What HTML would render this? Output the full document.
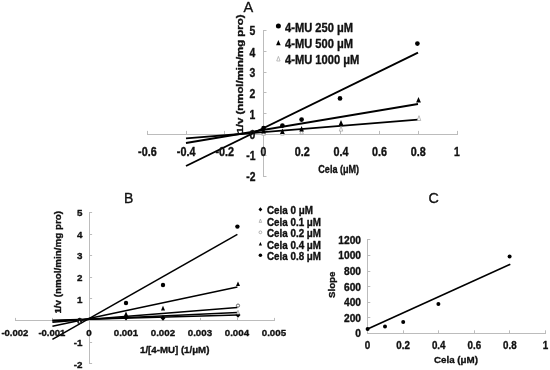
<!DOCTYPE html>
<html lang="en"><head><meta charset="utf-8"><title>Figure</title>
<style>
html,body{margin:0;padding:0;background:#fff;}
body{width:550px;height:370px;overflow:hidden;}
svg{display:block;font-family:"Liberation Sans",sans-serif;fill:#111;}
text{stroke:#111;stroke-width:0.35px;stroke-linejoin:round;}
text.lt{stroke-width:0.25px;}
</style></head><body>
<svg width="550" height="370" viewBox="0 0 550 370">
<rect x="0" y="0" width="550" height="370" fill="#fff"/>
<g id="chartA">
<line x1="147" y1="134.5" x2="458" y2="134.5" stroke="#bcbcbc" stroke-width="1"/>
<line x1="263.5" y1="30" x2="263.5" y2="177" stroke="#bcbcbc" stroke-width="1"/>
<line x1="147.5" y1="130.9" x2="147.5" y2="134.5" stroke="#bcbcbc" stroke-width="1"/>
<line x1="186.5" y1="130.9" x2="186.5" y2="134.5" stroke="#bcbcbc" stroke-width="1"/>
<line x1="224.5" y1="130.9" x2="224.5" y2="134.5" stroke="#bcbcbc" stroke-width="1"/>
<line x1="263.5" y1="130.9" x2="263.5" y2="134.5" stroke="#bcbcbc" stroke-width="1"/>
<line x1="302.5" y1="130.9" x2="302.5" y2="134.5" stroke="#bcbcbc" stroke-width="1"/>
<line x1="340.5" y1="130.9" x2="340.5" y2="134.5" stroke="#bcbcbc" stroke-width="1"/>
<line x1="379.5" y1="130.9" x2="379.5" y2="134.5" stroke="#bcbcbc" stroke-width="1"/>
<line x1="418.5" y1="130.9" x2="418.5" y2="134.5" stroke="#bcbcbc" stroke-width="1"/>
<line x1="457.5" y1="130.9" x2="457.5" y2="134.5" stroke="#bcbcbc" stroke-width="1"/>
<line x1="263.5" y1="176.5" x2="266.5" y2="176.5" stroke="#bcbcbc" stroke-width="1"/>
<line x1="263.5" y1="155.5" x2="266.5" y2="155.5" stroke="#bcbcbc" stroke-width="1"/>
<line x1="263.5" y1="134.5" x2="266.5" y2="134.5" stroke="#bcbcbc" stroke-width="1"/>
<line x1="263.5" y1="113.5" x2="266.5" y2="113.5" stroke="#bcbcbc" stroke-width="1"/>
<line x1="263.5" y1="92.5" x2="266.5" y2="92.5" stroke="#bcbcbc" stroke-width="1"/>
<line x1="263.5" y1="72.5" x2="266.5" y2="72.5" stroke="#bcbcbc" stroke-width="1"/>
<line x1="263.5" y1="51.5" x2="266.5" y2="51.5" stroke="#bcbcbc" stroke-width="1"/>
<line x1="263.5" y1="30.5" x2="266.5" y2="30.5" stroke="#bcbcbc" stroke-width="1"/>
<line x1="186" y1="166" x2="418" y2="52.6" stroke="#000" stroke-width="1.9"/>
<line x1="186" y1="143" x2="418" y2="104" stroke="#000" stroke-width="1.9"/>
<line x1="186" y1="138.4" x2="418" y2="119.6" stroke="#000" stroke-width="1.9"/>
<circle cx="263.6" cy="128" r="2.35" fill="#000"/>
<circle cx="282.4" cy="125.6" r="2.35" fill="#000"/>
<circle cx="301.6" cy="119.6" r="2.35" fill="#000"/>
<circle cx="340" cy="98.4" r="2.35" fill="#000"/>
<circle cx="417.4" cy="43.6" r="2.35" fill="#000"/>
<polygon points="263.6,130.5 261.85,135.3 265.35,135.3" fill="#fff" stroke="#a0a0a0" stroke-width="0.7"/>
<polygon points="282.4,130.3 280.65,135.1 284.15,135.1" fill="#fff" stroke="#a0a0a0" stroke-width="0.7"/>
<polygon points="301.6,129.3 299.85,134.1 303.35,134.1" fill="#fff" stroke="#a0a0a0" stroke-width="0.7"/>
<polygon points="341,126.3 339.25,131.1 342.75,131.1" fill="#fff" stroke="#a0a0a0" stroke-width="0.7"/>
<polygon points="419,115.7 417.25,120.5 420.75,120.5" fill="#fff" stroke="#a0a0a0" stroke-width="0.7"/>
<polygon points="263.6,127.99999999999999 261.22,133.4 265.98,133.4" fill="#000" stroke="none" stroke-width="0"/>
<polygon points="282.4,128.6 280.02,134.0 284.78,134.0" fill="#000" stroke="none" stroke-width="0"/>
<polygon points="301.6,126.0 299.22,131.4 303.98,131.4" fill="#000" stroke="none" stroke-width="0"/>
<polygon points="341,120.0 338.62,125.4 343.38,125.4" fill="#000" stroke="none" stroke-width="0"/>
<polygon points="418.5,97.0 416.12,102.4 420.88,102.4" fill="#000" stroke="none" stroke-width="0"/>
<text x="147.4" y="155.7" font-size="12" font-weight="bold" text-anchor="middle" textLength="18.6" lengthAdjust="spacingAndGlyphs">-0.6</text>
<text x="186.1" y="155.7" font-size="12" font-weight="bold" text-anchor="middle" textLength="18.6" lengthAdjust="spacingAndGlyphs">-0.4</text>
<text x="224.8" y="155.7" font-size="12" font-weight="bold" text-anchor="middle" textLength="18.6" lengthAdjust="spacingAndGlyphs">-0.2</text>
<text x="263.5" y="155.7" font-size="12" font-weight="bold" text-anchor="middle" textLength="5.8" lengthAdjust="spacingAndGlyphs">0</text>
<text x="302.2" y="155.7" font-size="12" font-weight="bold" text-anchor="middle" textLength="15" lengthAdjust="spacingAndGlyphs">0.2</text>
<text x="340.9" y="155.7" font-size="12" font-weight="bold" text-anchor="middle" textLength="15" lengthAdjust="spacingAndGlyphs">0.4</text>
<text x="379.6" y="155.7" font-size="12" font-weight="bold" text-anchor="middle" textLength="15" lengthAdjust="spacingAndGlyphs">0.6</text>
<text x="418.3" y="155.7" font-size="12" font-weight="bold" text-anchor="middle" textLength="15" lengthAdjust="spacingAndGlyphs">0.8</text>
<text x="457.0" y="155.7" font-size="12" font-weight="bold" text-anchor="middle" textLength="5.8" lengthAdjust="spacingAndGlyphs">1</text>
<text x="255.4" y="180.79999999999998" font-size="12" font-weight="bold" text-anchor="end" textLength="9.2" lengthAdjust="spacingAndGlyphs">-2</text>
<text x="255.4" y="160.0" font-size="12" font-weight="bold" text-anchor="end" textLength="9.2" lengthAdjust="spacingAndGlyphs">-1</text>
<text x="255.4" y="139.2" font-size="12" font-weight="bold" text-anchor="end" textLength="5.8" lengthAdjust="spacingAndGlyphs">0</text>
<text x="255.4" y="118.9" font-size="12" font-weight="bold" text-anchor="end" textLength="5.8" lengthAdjust="spacingAndGlyphs">1</text>
<text x="255.4" y="98.10000000000001" font-size="12" font-weight="bold" text-anchor="end" textLength="5.8" lengthAdjust="spacingAndGlyphs">2</text>
<text x="255.4" y="77.3" font-size="12" font-weight="bold" text-anchor="end" textLength="5.8" lengthAdjust="spacingAndGlyphs">3</text>
<text x="255.4" y="56.5" font-size="12" font-weight="bold" text-anchor="end" textLength="5.8" lengthAdjust="spacingAndGlyphs">4</text>
<text x="255.4" y="35.2" font-size="12" font-weight="bold" text-anchor="end" textLength="5.8" lengthAdjust="spacingAndGlyphs">5</text>
<text x="338.7" y="173.1" font-size="10.8" font-weight="bold" text-anchor="middle" textLength="40.8" lengthAdjust="spacingAndGlyphs">Cela (μM)</text>
<text transform="translate(242.6,133.5) rotate(-90)" font-size="9.2" font-weight="bold" textLength="119" lengthAdjust="spacingAndGlyphs">1/v (nmol/min/mg pro)</text>
<circle cx="278.4" cy="26" r="2.5" fill="#000"/>
<polygon points="278.4,40.099999999999994 276.1,45.3 280.69,45.3" fill="#000" stroke="none" stroke-width="0"/>
<polygon points="278.4,56.4 276.72,61.0 280.08,61.0" fill="#fff" stroke="#a0a0a0" stroke-width="0.7"/>
<text x="285" y="32.3" font-size="11.9" font-weight="bold" text-anchor="start" textLength="68" lengthAdjust="spacingAndGlyphs">4-MU 250 μM</text>
<text x="285" y="48.2" font-size="11.9" font-weight="bold" text-anchor="start" textLength="68" lengthAdjust="spacingAndGlyphs">4-MU 500 μM</text>
<text x="285" y="63.8" font-size="11.9" font-weight="bold" text-anchor="start" textLength="74.4" lengthAdjust="spacingAndGlyphs">4-MU 1000 μM</text>
<text x="248.3" y="11.7" font-size="14.5" font-weight="normal" text-anchor="middle">A</text>
</g>
<g id="chartB">
<line x1="15" y1="320.5" x2="275" y2="320.5" stroke="#bcbcbc" stroke-width="1"/>
<line x1="89.5" y1="212" x2="89.5" y2="364" stroke="#bcbcbc" stroke-width="1"/>
<line x1="15.5" y1="317.9" x2="15.5" y2="320.5" stroke="#bcbcbc" stroke-width="1"/>
<line x1="52.5" y1="317.9" x2="52.5" y2="320.5" stroke="#bcbcbc" stroke-width="1"/>
<line x1="89.5" y1="317.9" x2="89.5" y2="320.5" stroke="#bcbcbc" stroke-width="1"/>
<line x1="126.5" y1="317.9" x2="126.5" y2="320.5" stroke="#bcbcbc" stroke-width="1"/>
<line x1="163.5" y1="317.9" x2="163.5" y2="320.5" stroke="#bcbcbc" stroke-width="1"/>
<line x1="200.5" y1="317.9" x2="200.5" y2="320.5" stroke="#bcbcbc" stroke-width="1"/>
<line x1="237.5" y1="317.9" x2="237.5" y2="320.5" stroke="#bcbcbc" stroke-width="1"/>
<line x1="274.5" y1="317.9" x2="274.5" y2="320.5" stroke="#bcbcbc" stroke-width="1"/>
<line x1="89.5" y1="363.5" x2="92.1" y2="363.5" stroke="#bcbcbc" stroke-width="1"/>
<line x1="89.5" y1="342.5" x2="92.1" y2="342.5" stroke="#bcbcbc" stroke-width="1"/>
<line x1="89.5" y1="320.5" x2="92.1" y2="320.5" stroke="#bcbcbc" stroke-width="1"/>
<line x1="89.5" y1="298.5" x2="92.1" y2="298.5" stroke="#bcbcbc" stroke-width="1"/>
<line x1="89.5" y1="277.5" x2="92.1" y2="277.5" stroke="#bcbcbc" stroke-width="1"/>
<line x1="89.5" y1="255.5" x2="92.1" y2="255.5" stroke="#bcbcbc" stroke-width="1"/>
<line x1="89.5" y1="234.5" x2="92.1" y2="234.5" stroke="#bcbcbc" stroke-width="1"/>
<line x1="89.5" y1="212.5" x2="92.1" y2="212.5" stroke="#bcbcbc" stroke-width="1"/>
<line x1="52.4" y1="339.4" x2="237.4" y2="234.4" stroke="#000" stroke-width="1.5"/>
<line x1="52.4" y1="326.3" x2="237.4" y2="287" stroke="#000" stroke-width="1.5"/>
<line x1="52.4" y1="322.2" x2="237.4" y2="307.6" stroke="#000" stroke-width="1.5"/>
<line x1="52.4" y1="321.0" x2="237.4" y2="312.6" stroke="#000" stroke-width="1.5"/>
<line x1="52.4" y1="320.2" x2="237.4" y2="315" stroke="#000" stroke-width="1.5"/>
<polygon points="126,315.0 128.52,317.8 126,320.6 123.48,317.8" fill="#000"/>
<polygon points="163,315.2 165.52,318 163,320.8 160.48,318" fill="#000"/>
<polygon points="238,312.2 240.52,315 238,317.8 235.48,315" fill="#000"/>
<polygon points="79.5,317.7 82.02,320.5 79.5,323.3 76.98,320.5" fill="#000"/>
<circle cx="79.3" cy="322.2" r="0.9" fill="#fff" stroke="#fff" stroke-width="0.8"/>
<polygon points="238,310.3 236.6,314.1 239.4,314.1" fill="#fff" stroke="#a0a0a0" stroke-width="0.7"/>
<circle cx="238" cy="305.6" r="1.6" fill="#fff" stroke="#444" stroke-width="0.8"/>
<polygon points="126,311.40000000000003 123.96,316.0 128.04,316.0" fill="#000" stroke="none" stroke-width="0"/>
<polygon points="163,305.8 160.96,310.4 165.04,310.4" fill="#000" stroke="none" stroke-width="0"/>
<polygon points="238,281.40000000000003 235.96,286.0 240.04,286.0" fill="#000" stroke="none" stroke-width="0"/>
<circle cx="126" cy="303" r="2.2" fill="#000"/>
<circle cx="163" cy="285" r="2.2" fill="#000"/>
<circle cx="237.4" cy="226.6" r="2.2" fill="#000"/>
<text x="14.9" y="336.4" font-size="9.9" font-weight="bold" text-anchor="middle" textLength="27" lengthAdjust="spacingAndGlyphs">-0.002</text>
<text x="51.9" y="336.4" font-size="9.9" font-weight="bold" text-anchor="middle" textLength="27" lengthAdjust="spacingAndGlyphs">-0.001</text>
<text x="88.9" y="336.4" font-size="9.9" font-weight="bold" text-anchor="middle">0</text>
<text x="125.9" y="336.4" font-size="9.9" font-weight="bold" text-anchor="middle" textLength="24.3" lengthAdjust="spacingAndGlyphs">0.001</text>
<text x="162.9" y="336.4" font-size="9.9" font-weight="bold" text-anchor="middle" textLength="24.3" lengthAdjust="spacingAndGlyphs">0.002</text>
<text x="199.9" y="336.4" font-size="9.9" font-weight="bold" text-anchor="middle" textLength="24.3" lengthAdjust="spacingAndGlyphs">0.003</text>
<text x="236.9" y="336.4" font-size="9.9" font-weight="bold" text-anchor="middle" textLength="24.3" lengthAdjust="spacingAndGlyphs">0.004</text>
<text x="273.9" y="336.4" font-size="9.9" font-weight="bold" text-anchor="middle" textLength="24.3" lengthAdjust="spacingAndGlyphs">0.005</text>
<text x="82.4" y="367.7" font-size="9.8" font-weight="bold" text-anchor="end">-2</text>
<text x="82.4" y="346.1" font-size="9.8" font-weight="bold" text-anchor="end">-1</text>
<text x="82.4" y="324.3" font-size="9.8" font-weight="bold" text-anchor="end">0</text>
<text x="82.4" y="302.7" font-size="9.8" font-weight="bold" text-anchor="end">1</text>
<text x="82.4" y="281.1" font-size="9.8" font-weight="bold" text-anchor="end">2</text>
<text x="82.4" y="259.2" font-size="9.8" font-weight="bold" text-anchor="end">3</text>
<text x="82.4" y="237.6" font-size="9.8" font-weight="bold" text-anchor="end">4</text>
<text x="82.4" y="216.1" font-size="9.8" font-weight="bold" text-anchor="end">5</text>
<text x="174.7" y="353.4" font-size="9.7" font-weight="bold" text-anchor="middle" textLength="69.4" lengthAdjust="spacingAndGlyphs">1/[4-MU] (1/μM)</text>
<text transform="translate(61.4,313.6) rotate(-90)" font-size="9.8" font-weight="bold" textLength="102.6" lengthAdjust="spacingAndGlyphs">1/v (nmol/min/mg pro)</text>
<polygon points="260.4,207.3 262.28999999999996,209.4 260.4,211.5 258.51,209.4" fill="#000"/>
<polygon points="260.4,219.0 259.14,222.4 261.66,222.4" fill="#fff" stroke="#a0a0a0" stroke-width="0.7"/>
<circle cx="260.4" cy="232.3" r="1.4" fill="#fff" stroke="#a0a0a0" stroke-width="0.8"/>
<polygon points="260.4,241.9 258.78,245.5 262.01,245.5" fill="#000" stroke="none" stroke-width="0"/>
<circle cx="260.4" cy="255.2" r="1.8" fill="#000"/>
<text x="267" y="214" font-size="10" font-weight="bold" text-anchor="start" textLength="46" lengthAdjust="spacingAndGlyphs">Cela 0 μM</text>
<text x="267" y="225.8" font-size="10" font-weight="bold" text-anchor="start" textLength="54" lengthAdjust="spacingAndGlyphs">Cela 0.1 μM</text>
<text x="267" y="237.2" font-size="10" font-weight="bold" text-anchor="start" textLength="54" lengthAdjust="spacingAndGlyphs">Cela 0.2 μM</text>
<text x="267" y="248.8" font-size="10" font-weight="bold" text-anchor="start" textLength="54" lengthAdjust="spacingAndGlyphs">Cela 0.4 μM</text>
<text x="267" y="260.4" font-size="10" font-weight="bold" text-anchor="start" textLength="54" lengthAdjust="spacingAndGlyphs">Cela 0.8 μM</text>
<text x="128.7" y="203" font-size="14" font-weight="normal" text-anchor="middle">B</text>
</g>
<g id="chartC">
<line x1="367" y1="333.5" x2="546" y2="333.5" stroke="#bcbcbc" stroke-width="1"/>
<line x1="367.5" y1="239" x2="367.5" y2="334.0" stroke="#bcbcbc" stroke-width="1"/>
<line x1="367.5" y1="330.3" x2="367.5" y2="333.5" stroke="#bcbcbc" stroke-width="1"/>
<line x1="403.5" y1="330.3" x2="403.5" y2="333.5" stroke="#bcbcbc" stroke-width="1"/>
<line x1="438.5" y1="330.3" x2="438.5" y2="333.5" stroke="#bcbcbc" stroke-width="1"/>
<line x1="474.5" y1="330.3" x2="474.5" y2="333.5" stroke="#bcbcbc" stroke-width="1"/>
<line x1="509.5" y1="330.3" x2="509.5" y2="333.5" stroke="#bcbcbc" stroke-width="1"/>
<line x1="545.5" y1="330.3" x2="545.5" y2="333.5" stroke="#bcbcbc" stroke-width="1"/>
<line x1="367.5" y1="333.5" x2="370.3" y2="333.5" stroke="#bcbcbc" stroke-width="1"/>
<line x1="367.5" y1="317.5" x2="370.3" y2="317.5" stroke="#bcbcbc" stroke-width="1"/>
<line x1="367.5" y1="302.5" x2="370.3" y2="302.5" stroke="#bcbcbc" stroke-width="1"/>
<line x1="367.5" y1="286.5" x2="370.3" y2="286.5" stroke="#bcbcbc" stroke-width="1"/>
<line x1="367.5" y1="271.5" x2="370.3" y2="271.5" stroke="#bcbcbc" stroke-width="1"/>
<line x1="367.5" y1="255.5" x2="370.3" y2="255.5" stroke="#bcbcbc" stroke-width="1"/>
<line x1="367.5" y1="239.5" x2="370.3" y2="239.5" stroke="#bcbcbc" stroke-width="1"/>
<line x1="367.6" y1="329" x2="510.3" y2="264.3" stroke="#000" stroke-width="1.7"/>
<circle cx="367.6" cy="329" r="2.0" fill="#000"/>
<circle cx="385" cy="326.6" r="2.0" fill="#000"/>
<circle cx="403.2" cy="322" r="2.0" fill="#000"/>
<circle cx="438.4" cy="304" r="2.0" fill="#000"/>
<circle cx="509.6" cy="256.4" r="2.0" fill="#000"/>
<text x="367.5" y="349.1" font-size="10.8" font-weight="bold" text-anchor="middle" textLength="5.5" lengthAdjust="spacingAndGlyphs">0</text>
<text x="403.1" y="349.1" font-size="10.8" font-weight="bold" text-anchor="middle" textLength="13.6" lengthAdjust="spacingAndGlyphs">0.2</text>
<text x="438.7" y="349.1" font-size="10.8" font-weight="bold" text-anchor="middle" textLength="13.6" lengthAdjust="spacingAndGlyphs">0.4</text>
<text x="474.3" y="349.1" font-size="10.8" font-weight="bold" text-anchor="middle" textLength="13.6" lengthAdjust="spacingAndGlyphs">0.6</text>
<text x="509.9" y="349.1" font-size="10.8" font-weight="bold" text-anchor="middle" textLength="13.6" lengthAdjust="spacingAndGlyphs">0.8</text>
<text x="545.5" y="349.1" font-size="10.8" font-weight="bold" text-anchor="middle" textLength="5.5" lengthAdjust="spacingAndGlyphs">1</text>
<text x="361" y="337.4" font-size="10.2" font-weight="bold" text-anchor="end">0</text>
<text x="361" y="321.79999999999995" font-size="10.2" font-weight="bold" text-anchor="end">200</text>
<text x="361" y="306.2" font-size="10.2" font-weight="bold" text-anchor="end">400</text>
<text x="361" y="290.59999999999997" font-size="10.2" font-weight="bold" text-anchor="end">600</text>
<text x="361" y="275.0" font-size="10.2" font-weight="bold" text-anchor="end">800</text>
<text x="361" y="259.4" font-size="10.2" font-weight="bold" text-anchor="end">1000</text>
<text x="361" y="243.8" font-size="10.2" font-weight="bold" text-anchor="end">1200</text>
<text x="456" y="363" font-size="9.85" font-weight="bold" text-anchor="middle" textLength="44" lengthAdjust="spacingAndGlyphs">Cela (μM)</text>
<text transform="translate(334.8,298) rotate(-90)" font-size="9.9" font-weight="bold" textLength="26.4" lengthAdjust="spacingAndGlyphs">Slope</text>
<text x="433.7" y="203" font-size="14.3" font-weight="normal" text-anchor="middle">C</text>
</g>
</svg>
</body></html>
